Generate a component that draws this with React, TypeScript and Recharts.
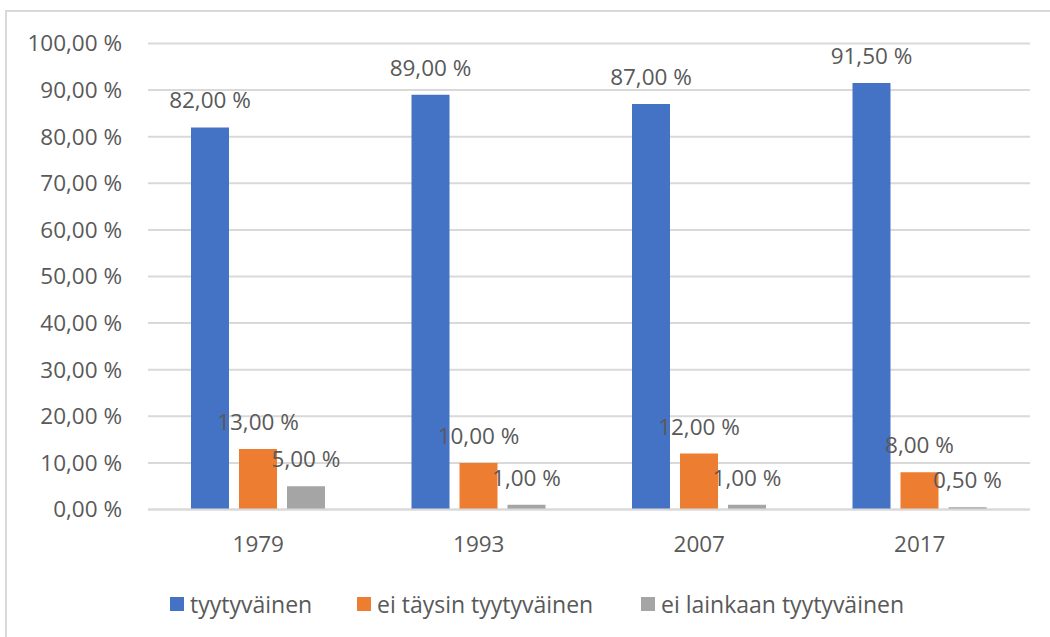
import React from 'react';
import { BarChart, Bar, XAxis, YAxis, CartesianGrid, Legend, LabelList } from 'recharts';

const years = ['1979', '1993', '2007', '2017'];
const tyytyvainen = [82, 89, 87, 91.5];
const eiTaysin = [13, 10, 12, 8];
const eiLainkaan = [5, 1, 1, 0.5];
const yTicks = [0, 10, 20, 30, 40, 50, 60, 70, 80, 90, 100];

const seriesNames = ['tyytyväinen', 'ei täysin tyytyväinen', 'ei lainkaan tyytyväinen'];
const colors = ['#4472C4', '#ED7D31', '#A5A5A5'];

const data = years.map((y, i) => ({
  year: y,
  a: tyytyvainen[i],
  b: eiTaysin[i],
  c: eiLainkaan[i],
}));

const fmt = (v: number) => v.toFixed(2).replace('.', ',') + ' %';
const FONT = '"Open Sans", sans-serif';
const TXT = '#595959';
const FS = 22.5;

const legendWidths = [187, 284, 300];

const renderLegend = () => (
  <div style={{ display: 'flex', justifyContent: 'flex-start', alignItems: 'center', height: 30, paddingLeft: 170, fontFamily: FONT, fontSize: 23, color: TXT }}>
    {seriesNames.map((n, i) => (
      <div key={n} style={{ display: 'flex', alignItems: 'center', width: legendWidths[i], whiteSpace: 'nowrap' }}>
        <div style={{ width: 14, height: 14, background: colors[i], marginRight: 6, flexShrink: 0 }} />
        <span>{n}</span>
      </div>
    ))}
  </div>
);

const ValueLabel = (props: any) => {
  const { x, y, width, value } = props;
  return (
    <text x={Number(x) + Number(width) / 2} y={Number(y) - 19} textAnchor="middle" fill={TXT} fontSize={FS} fontFamily={FONT}>
      {fmt(Number(value))}
    </text>
  );
};

export default function App() {
  return (
    <div style={{ position: 'absolute', left: 0, top: 0, width: 1050, height: 637, overflow: 'hidden', background: '#fff' }}>
      <div style={{ position: 'absolute', left: 5, top: 10, width: 1100, height: 700, border: '2px solid #d9d9d9', boxSizing: 'border-box' }} />
      <div style={{ position: 'absolute', left: 0, top: 0 }}>
        <BarChart width={1050} height={637} data={data} margin={{ top: 43.5, right: 20, bottom: 18.5, left: 0 }} barSize={38} barGap={10}>
          <CartesianGrid vertical={false} stroke="#d9d9d9" strokeWidth={2} />
          <XAxis dataKey="year" axisLine={{ stroke: '#d9d9d9', strokeWidth: 2 }} tickLine={false} tickMargin={21} height={79} tick={{ fill: TXT, fontSize: FS, fontFamily: FONT }} />
          <YAxis type="number" domain={[0, 100]} ticks={yTicks} interval={0} axisLine={false} tickLine={false} width={148} tickMargin={20} tickFormatter={fmt} tick={{ fill: TXT, fontSize: FS, fontFamily: FONT }} />
          <Legend verticalAlign="bottom" height={30} content={renderLegend} />
          {(['a', 'b', 'c'] as const).map((k, i) => (
            <Bar key={k} dataKey={k} name={seriesNames[i]} fill={colors[i]} isAnimationActive={false}>
              <LabelList dataKey={k} content={ValueLabel} />
            </Bar>
          ))}
        </BarChart>
      </div>
    </div>
  );
}
